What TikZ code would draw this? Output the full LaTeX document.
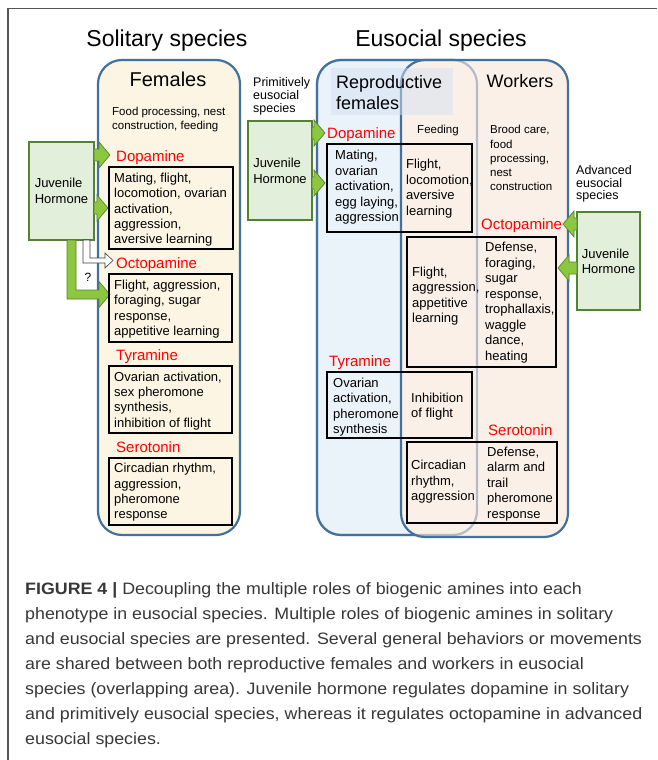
\documentclass[tikz,border=0pt]{standalone}
\usepackage{fontspec}
\setmainfont{Liberation Sans}
\newfontfamily\capfont[FakeStretch=1.08]{Liberation Sans}
\definecolor{bordblue}{HTML}{41719C}
\definecolor{femfill}{HTML}{FDF5E3}
\definecolor{repfill}{HTML}{EAF2FA}
\definecolor{wrkfill}{HTML}{FAF0E8}
\definecolor{hlblue}{HTML}{D3E2F1}
\definecolor{jhfill}{HTML}{E2EFDA}
\definecolor{jhborder}{HTML}{548235}
\definecolor{arrgreen}{HTML}{8DC63F}
\definecolor{amred}{HTML}{FF0000}
\definecolor{captxt}{HTML}{383838}
\definecolor{framegray}{HTML}{555555}
\newcommand\garR[3]{\filldraw[garrow] (#1,#3-6) -- (#2-11,#3-6) -- (#2-11,#3-13) -- (#2,#3) -- (#2-11,#3+13) -- (#2-11,#3+6) -- (#1,#3+6) -- cycle;}
\newcommand\garL[3]{\filldraw[garrow] (#1,#3-6) -- (#2+11,#3-6) -- (#2+11,#3-13) -- (#2,#3) -- (#2+11,#3+13) -- (#2+11,#3+6) -- (#1,#3+6) -- cycle;}
\tikzset{
 txt/.style={anchor=north west, inner sep=0pt, align=left, text=black},
 bt/.style={txt, font=\fontsize{13}{15.3}\selectfont},
 et/.style={txt, font=\fontsize{13}{15.5}\selectfont},
 small/.style={txt, font=\fontsize{11.5}{14.2}\selectfont},
 spc/.style={txt, font=\fontsize{12.5}{13}\selectfont},
 amine/.style={anchor=north west, inner sep=0pt, text=amred, font=\fontsize{15}{18}\selectfont},
 ttl/.style={anchor=north, inner sep=0pt, text=black},
 tbox/.style={draw=black, line width=1.8pt},
 jhbox/.style={draw=jhborder, fill=jhfill, line width=1.3pt, inner sep=0pt, align=left, font=\fontsize{13}{16}\selectfont},
 garrow/.style={fill=arrgreen, draw=jhborder, line width=0.7pt, line join=miter},
 bigbox/.style={draw=bordblue, line width=2.2pt, rounded corners=24pt},
}
\begin{document}
\begin{tikzpicture}[x=1pt,y=-1pt]
\useasboundingbox (0,0) rectangle (657,760);
\fill[white] (0,0) rectangle (657,760);
% frame
\draw[framegray, line width=1.5pt] (8,760) -- (8,8.5) -- (657,8.5);

% titles
\node[ttl, font=\fontsize{23}{27}\selectfont] (tsol) at (167,30) {Solitary species};
\node[ttl, font=\fontsize{23}{27}\selectfont] (teus) at (441,30) {Eusocial species};

% big boxes
\filldraw[bigbox, fill=femfill] (98,60) rectangle (240,535);
\filldraw[bigbox, fill=repfill] (317,60) rectangle (477,535);
\filldraw[bigbox, fill=wrkfill] (401,60) rectangle (568,537);
\draw[bigbox, opacity=0.4] (317,60) rectangle (477,535);
\fill[hlblue, opacity=0.5] (331,68) rectangle (453,115);

\node[ttl, font=\fontsize{20}{24}\selectfont] (tfem) at (168,71.5) {Females};
\node[txt, font=\fontsize{18}{21}\selectfont] (trep) at (336,75) {Reproductive\\females};
\node[ttl, font=\fontsize{18}{21}\selectfont] (twrk) at (520,74) {Workers};

% ---------- solitary ----------
\node[small] (food) at (112,107) {Food processing, nest\\construction, feeding};
\node[jhbox, minimum width=65pt, minimum height=98pt] (jhL) at (61.5,191) {Juvenile\\Hormone};

% L-shaped arrows below JH
\filldraw[garrow] (67,240) -- (67,299) -- (99,299) -- (99,307.5) -- (110,294.5) -- (99,281.5) -- (99,290) -- (76,290) -- (76,240) -- cycle;
\filldraw[fill=white, draw=black!75, line width=0.6pt] (83,240) -- (83,263) -- (105,263) -- (105,268) -- (113,260.5) -- (105,253) -- (105,258) -- (90,258) -- (90,240) -- cycle;
\node[inner sep=0pt, font=\fontsize{12}{14}\selectfont] (qm) at (88,277) {?};
\garR{94}{110}{155}
\garR{94}{108}{208}

\node[amine] (sdop) at (116,150) {Dopamine};
\draw[tbox] (109,167) rectangle (233,249);
\node[bt] (sdopt) at (114,173) {Mating, flight,\\locomotion, ovarian\\activation,\\aggression,\\aversive learning};

\node[amine] (soct) at (116,257) {Octopamine};
\draw[tbox] (109,274) rectangle (232,342);
\node[bt] (soctt) at (114,280) {Flight, aggression,\\foraging, sugar\\response,\\appetitive learning};

\node[amine] (styr) at (116,349) {Tyramine};
\draw[tbox] (109,366) rectangle (232,433);
\node[bt] (styrt) at (114,371.7) {Ovarian activation,\\sex pheromone\\synthesis,\\inhibition of flight};

\node[amine] (sser) at (116,441) {Serotonin};
\draw[tbox] (109,458) rectangle (232,525);
\node[bt] (ssert) at (114,463.3) {Circadian rhythm,\\aggression,\\pheromone\\response};

% ---------- middle ----------
\node[spc] (prim) at (253,77.3) {Primitively\\eusocial\\species};
\node[jhbox, minimum width=64pt, minimum height=99pt] (jhM) at (280,170.5) {Juvenile\\Hormone};
\garR{312}{325}{133}
\garR{312}{325}{183}

\node[amine] (edop) at (327,127) {Dopamine};
\node[small, anchor=north] (feed) at (438,125.3) {Feeding};
\node[small] (brood) at (490,125.3) {Brood care,\\food\\processing,\\nest\\construction};
\draw[tbox] (327,144) rectangle (472,232);
\node[et] (edopl) at (335,150) {Mating,\\ovarian\\activation,\\egg laying,\\aggression};
\node[et] (edopr) at (406,159) {Flight,\\locomotion,\\aversive\\learning};

% ---------- right ----------
\node[spc, font=\fontsize{12.5}{12.5}\selectfont] (adv) at (576,165.7) {Advanced\\eusocial\\species};
\node[jhbox, minimum width=63pt, minimum height=98pt, font=\fontsize{13}{15}\selectfont] (jhR) at (608.5,261) {Juvenile\\Hormone};
\garL{577}{563}{224}
\garL{577}{558}{268}

\node[amine] (eoct) at (481,218.5) {Octopamine};
\draw[tbox] (407,237) rectangle (556,367);
\node[et] (eoctl) at (412,266.7) {Flight,\\aggression,\\appetitive\\learning};
\node[et] (eoctr) at (485,242.3) {Defense,\\foraging,\\sugar\\response,\\trophallaxis,\\waggle\\dance,\\heating};

\node[amine] (etyr) at (329,355) {Tyramine};
\draw[tbox] (327,372) rectangle (472,438);
\node[et] (etyrl) at (333,377.7) {Ovarian\\activation,\\pheromone\\synthesis};
\node[et] (etyrr) at (411,392.7) {Inhibition\\of flight};

\node[amine] (eser) at (488,424.3) {Serotonin};
\draw[tbox] (407,442) rectangle (557,523);
\node[et] (eserl) at (411,460) {Circadian\\rhythm,\\aggression};
\node[et] (eserr) at (487,446.7) {Defense,\\alarm and\\trail\\pheromone\\response};

% caption
\node[anchor=north west, inner sep=0pt, align=left, text=captxt, font=\capfont\fontsize{16.5}{25}\selectfont] (cap) at (25,582.7)
{\textbf{FIGURE 4 |} Decoupling the multiple roles of biogenic amines into each\\
phenotype in eusocial species. Multiple roles of biogenic amines in solitary\\
and eusocial species are presented. Several general behaviors or movements\\
are shared between both reproductive females and workers in eusocial\\
species (overlapping area). Juvenile hormone regulates dopamine in solitary\\
and primitively eusocial species, whereas it regulates octopamine in advanced\\
eusocial species.};
\end{tikzpicture}
\end{document}
